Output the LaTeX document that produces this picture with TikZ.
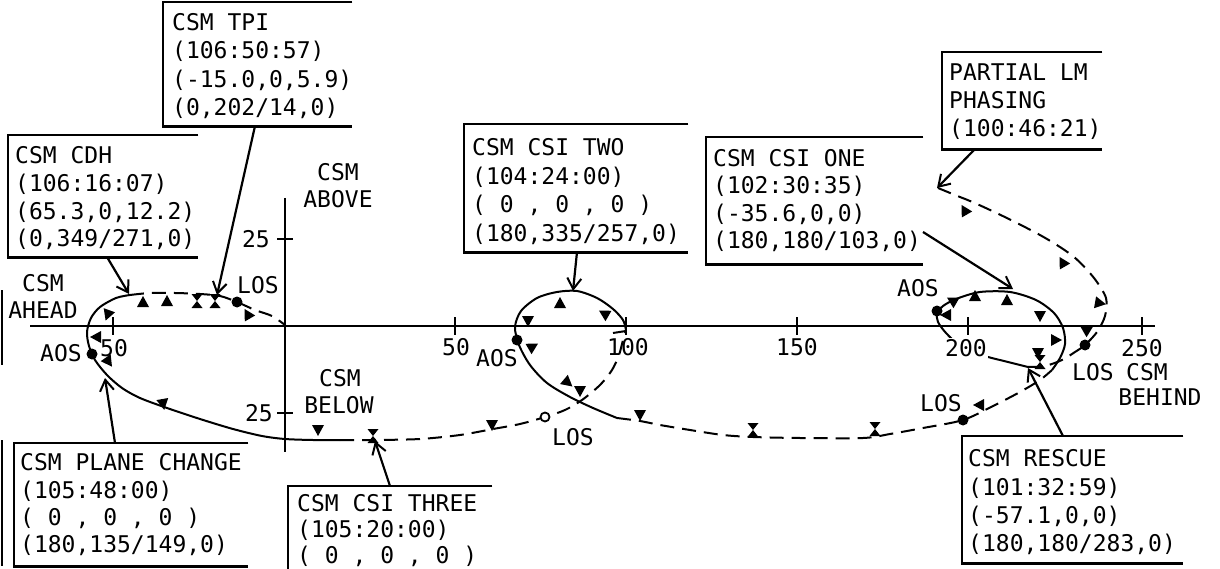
\documentclass[tikz,border=0pt]{standalone}
\usepackage{fontspec}
\newfontfamily\mono{DejaVu Sans Mono}
\usetikzlibrary{arrows.meta}
\newcommand\tmark[3]{\fill[shift={(#1,#2)},rotate=#3] (0,-7) -- (6,4) -- (-6,4) -- cycle;}
\newcommand\hmark[2]{\fill[shift={(#1,#2)}] (-5.5,-7) -- (5.5,-7) -- (0,0) -- cycle (-5.5,7) -- (5.5,7) -- (0,0) -- cycle;}
\begin{document}
\begin{tikzpicture}[x=1pt,y=-1pt,
  txt/.style={font=\mono\fontsize{23}{28}\selectfont, inner sep=0pt, anchor=base west},
  lab/.style={font=\mono\fontsize{23}{28}\selectfont, inner sep=0pt, anchor=base},
  boxarea/.style={draw=none, inner sep=0pt, anchor=north west},
  boxline/.style={line width=2.4pt},
  axis/.style={line width=2pt},
  traj/.style={line width=2pt},
  dtraj/.style={line width=2pt, dash pattern=on 14pt off 8pt},
  pointer/.style={line width=2.2pt, -{Straight Barb[length=11pt,width=14pt,line width=2pt]}},
]
\useasboundingbox (0,0) rectangle (1220,569);
\clip (0,0) rectangle (1220,569);

% edge artifacts
\draw[line width=1.5pt] (2,290) -- (2,365);
\draw[line width=1.5pt] (2,440) -- (2,566);

% axes
\coordinate (hx0) at (30,326); \coordinate (hx1) at (1155,326);
\coordinate (vy0) at (285,198); \coordinate (vy1) at (285,452);
\draw[axis] (hx0) -- (hx1);
\draw[axis] (vy0) -- (vy1);
\foreach \x in {113,455,626,797,968,1142} \draw[axis] (\x,317) -- (\x,335);
\draw[axis] (277,239) -- (293,239);
\draw[axis] (277,413) -- (293,413);

% trajectory
\draw[traj] plot[smooth] coordinates {(130,295) (116,298) (100,307) (91,318) (87,332) (89,346) (95,360) (107,375) (122,388) (140,398) (167,408) (200,419) (233,429) (262,436) (285,439) (313,440) (340,440)};
\draw[dtraj] plot[smooth] coordinates {(130,295) (150,293) (175,293) (200,294) (220,296) (237,302) (255,310) (272,316) (285,325)};
\draw[dtraj] plot[smooth] coordinates {(340,440) (375,440) (420,439) (460,435) (493,429) (520,424) (545,417) (565,410) (582,400) (600,385) (612,370) (619,355) (623,340) (626,330)};
\draw[traj] plot[smooth] coordinates {(617,418) (593,408) (570,397) (547,383) (530,365) (519,345) (515,327) (521,311) (537,298) (557,292) (577,291) (597,298) (613,309) (623,320) (626,330)};
\draw[traj] (626,331) -- (613,333);
\draw[dtraj] plot[smooth] coordinates {(617,418) (640,421) (660,425) (690,430) (723,435) (753,437) (800,438) (863,438) (890,434) (923,428) (963,420) (993,406) (1020,392) (1040,380) (1052,370)};
\draw[traj] plot[smooth] coordinates {(1052,370) (1060,358) (1065,344) (1063,328) (1054,313) (1036,300) (1010,292) (980,292) (956,299) (943,306) (937,313) (938,322) (946,333) (960,346) (975,353) (988,357) (1008,362) (1028,367)};
\draw[dtraj] plot[smooth] coordinates {(1028,367) (1045,366) (1062,360) (1075,352) (1085,345) (1097,332) (1105,316) (1106,298) (1094,278) (1074,257) (1047,239) (1013,221) (977,204) (955,195) (938,188)};

% AOS / LOS points
\fill (92,354) circle (5.5pt);
\fill (237,302) circle (5.5pt);
\fill (517,340) circle (5.5pt);
\draw[line width=1.8pt, fill=white] (545,417) circle (4.5pt);
\fill (937,311) circle (5.5pt);
\fill (963,420) circle (5.5pt);
\fill (1085,345) circle (5.5pt);

% time marks
\tmark{143}{303}{0} \tmark{167}{302}{0} \hmark{197}{301} \hmark{215}{301}
\tmark{248}{315}{30}
\tmark{108}{314}{160} \tmark{97}{337}{90} \tmark{108}{361}{215}
\tmark{163}{403}{190} \tmark{318}{429}{180} \hmark{373}{436}
\tmark{492}{424}{180} \tmark{567}{382}{230} \tmark{580}{390}{180} \tmark{640}{414}{180}
\tmark{560}{304}{0} \tmark{605}{314}{60} \tmark{528}{320}{180} \tmark{532}{347}{-60}
\hmark{753}{430} \hmark{875}{429} \tmark{980}{405}{90}
\tmark{953}{301}{60} \tmark{947}{315}{90} \tmark{975}{297}{0} \tmark{1007}{301}{0}
\tmark{1040}{315}{180} \tmark{1055}{340}{-90} \tmark{1038}{352}{180} \hmark{1040}{362}
\tmark{965}{211}{30} \tmark{1063}{263}{30} \tmark{1099}{303}{-100} \tmark{1087}{330}{-60}

% axis labels
\node[lab] (t50a) at (114,356.5) {50};
\node[lab] (t50b) at (456,355.5) {50};
\node[lab] (t100) at (628,355.5) {100};
\node[lab] (t150) at (797,355.5) {150};
\node[lab, fill=white, inner sep=1pt] (t200) at (966,356.5) {200};
\node[lab] (t250) at (1142,356.5) {250};
\node[lab, anchor=base east] (t25a) at (270,247.5) {25};
\node[lab, anchor=base east] (t25b) at (273,421.5) {25};

\node[lab] (ab1) at (338,180.5) {CSM};
\node[lab] (ab2) at (338,207.5) {ABOVE};
\node[lab] (ah1) at (43,291.5) {CSM};
\node[lab] (ah2) at (43,318.5) {AHEAD};
\node[lab] (be1) at (340,386.5) {CSM};
\node[lab] (be2) at (339,413.5) {BELOW};
\node[lab] (aos1) at (61,361.5) {AOS};
\node[lab] (los1) at (258,293.5) {LOS};
\node[lab] (aos2) at (497,366.5) {AOS};
\node[lab] (los2) at (573,445.5) {LOS};
\node[lab] (aos3) at (918,296.5) {AOS};
\node[lab] (los3) at (941,411.5) {LOS};
\node[lab] (los4) at (1093,380.5) {LOS};
\node[lab] (bh1) at (1147,380.5) {CSM};
\node[lab] (bh2) at (1160,405.5) {BEHIND};

% boxes
\node[boxarea, minimum width=189pt, minimum height=124pt] (bTPI) at (163,2) {};
\node[boxarea, minimum width=190pt, minimum height=122pt] (bCDH) at (8,135) {};
\node[boxarea, minimum width=224pt, minimum height=128pt] (bTWO) at (464,124) {};
\node[boxarea, minimum width=217pt, minimum height=127pt] (bONE) at (706,137) {};
\node[boxarea, minimum width=160pt, minimum height=97pt] (bPLM) at (942,52) {};
\node[boxarea, minimum width=234pt, minimum height=123pt] (bPLC) at (14,443) {};
\node[boxarea, minimum width=204pt, minimum height=110pt] (bTHR) at (288,486) {};
\node[boxarea, minimum width=221pt, minimum height=127pt] (bRES) at (962,436) {};
\foreach \b in {bTPI,bCDH,bTWO,bONE,bPLM,bPLC,bTHR,bRES}
  \draw[boxline] (\b.north east) -- (\b.north west) -- (\b.south west) -- (\b.south east);

\node[txt] (tpi1) at (172,30.5) {CSM TPI};
\node[txt] (tpi2) at (172,58.8) {(106:50:57)};
\node[txt] (tpi3) at (172,87.1) {(-15.0,0,5.9)};
\node[txt] (tpi4) at (172,115.4) {(0,202/14,0)};

\node[txt] (cdh1) at (15,163.5) {CSM CDH};
\node[txt] (cdh2) at (15,191.3) {(106:16:07)};
\node[txt] (cdh3) at (15,219.1) {(65.3,0,12.2)};
\node[txt] (cdh4) at (15,247) {(0,349/271,0)};

\node[txt] (two1) at (472,156) {CSM CSI TWO};
\node[txt] (two2) at (472,184.5) {(104:24:00)};
\node[txt] (two3) at (472,213) {( 0 , 0 , 0 )};
\node[txt] (two4) at (472,241.5) {(180,335/257,0)};

\node[txt] (one1) at (713,166.5) {CSM CSI ONE};
\node[txt] (one2) at (713,194) {(102:30:35)};
\node[txt] (one3) at (713,221.5) {(-35.6,0,0)};
\node[txt] (one4) at (713,249) {(180,180/103,0)};

\node[txt] (plm1) at (949,80.5) {PARTIAL LM};
\node[txt] (plm2) at (949,108.5) {PHASING};
\node[txt] (plm3) at (949,136.5) {(100:46:21)};

\node[txt] (plc1) at (20,470.5) {CSM PLANE CHANGE};
\node[txt] (plc2) at (20,498) {(105:48:00)};
\node[txt] (plc3) at (20,525.5) {( 0 , 0 , 0 )};
\node[txt] (plc4) at (20,552.5) {(180,135/149,0)};

\node[txt] (thr1) at (297,511) {CSM CSI THREE};
\node[txt] (thr2) at (297,537) {(105:20:00)};
\node[txt] (thr3) at (297,563) {( 0 , 0 , 0 )};

\node[txt] (res1) at (968,466.5) {CSM RESCUE};
\node[txt] (res2) at (968,495) {(101:32:59)};
\node[txt] (res3) at (968,523) {(-57.1,0,0)};
\node[txt] (res4) at (968,551.5) {(180,180/283,0)};

% pointers
\coordinate (sTPI) at (255,126); \coordinate (pTPI) at (217,295);
\coordinate (sCDH) at (107,257); \coordinate (pCDH) at (129,294);
\coordinate (sTWO) at (577,252); \coordinate (pTWO) at (573,291);
\coordinate (sONE) at (923,232); \coordinate (pONE) at (1013,289);
\coordinate (sPLM) at (975,149); \coordinate (pPLM) at (937,188);
\coordinate (sPLC) at (115,443); \coordinate (pPLC) at (105,378);
\coordinate (sTHR) at (390,486); \coordinate (pTHR) at (375,441);
\coordinate (sRES) at (1063,436); \coordinate (pRES) at (1028,368);
\foreach \a in {TPI,CDH,TWO,ONE,PLM,PLC,THR,RES}
  \draw[pointer] (s\a) -- (p\a);
\end{tikzpicture}
\end{document}
